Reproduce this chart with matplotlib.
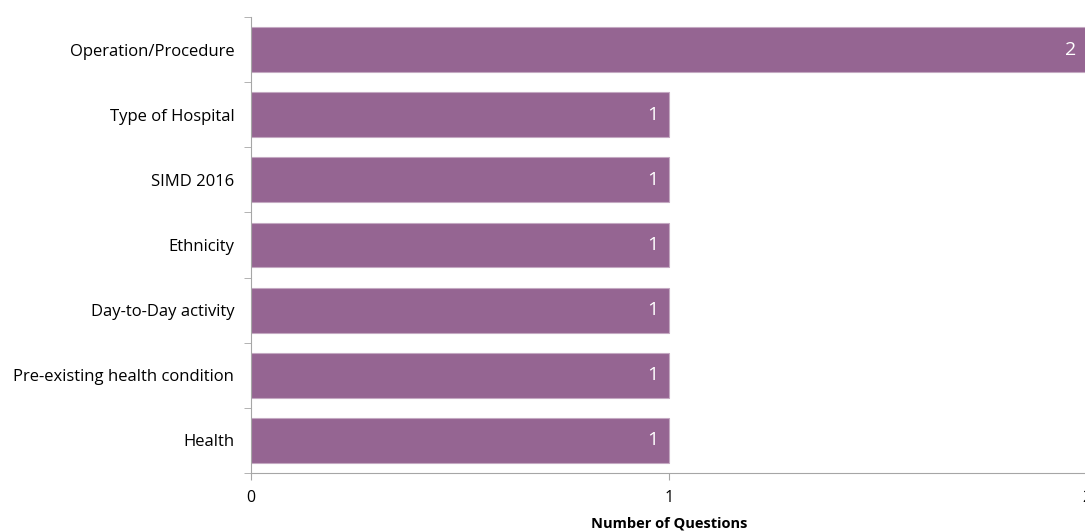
import numpy as np
import matplotlib.pyplot as plt

categories = ['Operation/Procedure', 'Type of Hospital', 'SIMD 2016', 'Ethnicity',
              'Day-to-Day activity', 'Pre-existing health condition', 'Health']
values = [2, 1, 1, 1, 1, 1, 1]

plt.rcParams['font.family'] = ['Open Sans', 'DejaVu Sans']

fig = plt.figure(figsize=(10.85, 5.32), dpi=100)
ax = fig.add_axes([0.2313, 0.111, 0.7705, 0.857])

pos = np.arange(len(categories))
bars = ax.barh(pos, values, height=0.69, color='#956592', edgecolor='#c4a9c2', linewidth=0.8)
ax.set_ylim(len(categories) - 0.5, -0.5)
ax.set_xlim(0, 2)

for b, v in zip(bars, values):
    ax.text(b.get_width() - 0.025, b.get_y() + b.get_height() / 2, str(v),
            ha='right', va='center', color='white', fontsize=14)

ax.set_yticks(pos)
ax.set_yticklabels(categories, fontsize=12)
ax.tick_params(axis='y', length=0, pad=12)
ax.set_yticks(np.arange(len(categories) + 1) - 0.5, minor=True)
ax.tick_params(axis='y', which='minor', length=5, color='#a6a6a6')

ax.set_xticks([0, 1, 2])
ax.tick_params(axis='x', length=5, color='#a6a6a6', labelsize=11.5, pad=7)
ax.set_xlabel('Number of Questions', fontsize=10.5, fontweight='bold', labelpad=8)

for s in ['top', 'right']:
    ax.spines[s].set_visible(False)
for s in ['left', 'bottom']:
    ax.spines[s].set_color('#a6a6a6')

fig.savefig('out.png', dpi=100)
